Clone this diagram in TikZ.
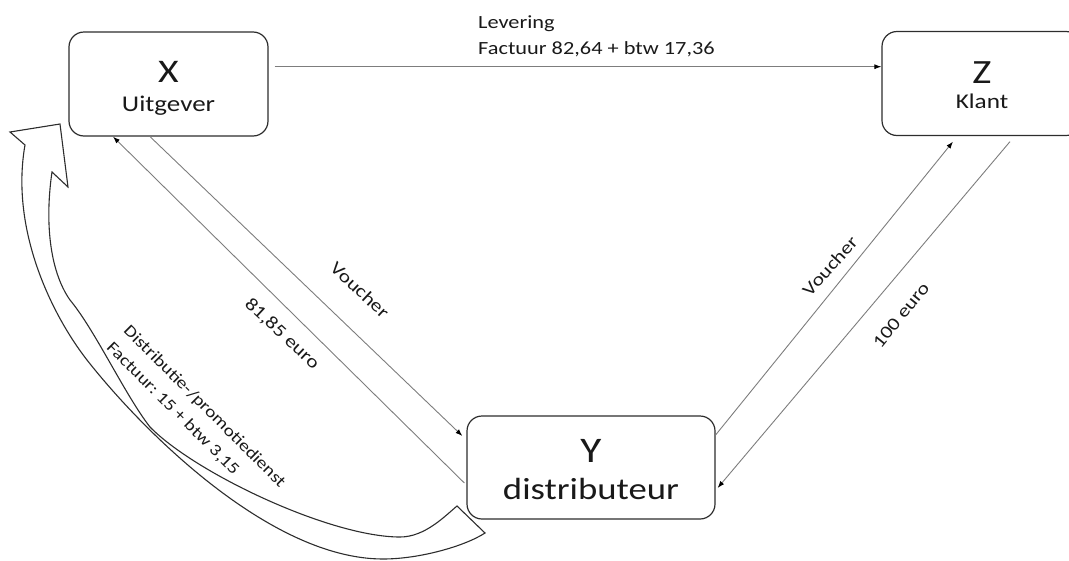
\documentclass[tikz,border=0pt]{standalone}
\usepackage{fontspec}
\setmainfont{Carlito}[FakeStretch=1.2]
\usetikzlibrary{arrows.meta}
\definecolor{conncol}{RGB}{125,125,125}
\definecolor{boxcol}{RGB}{45,45,45}
\definecolor{txtcol}{RGB}{25,25,25}
\frenchspacing
\begin{document}
\begin{tikzpicture}[x=1pt,y=-1pt,
  box/.style={draw=boxcol, line width=1.2pt, rounded corners=15pt, minimum width=199pt, minimum height=104pt, inner sep=0pt},
  conn/.style={draw=conncol, line width=0.9pt, -{Latex[length=7pt,width=5pt,color=black]}},
  lbl/.style={font=\fontsize{18}{22}\selectfont, inner sep=0pt, text=txtcol},
  boxtxt/.style={align=center, inner sep=0pt, anchor=north, text=txtcol},
  bigarrow/.style={draw=boxcol, line width=1.1pt, fill=white, line join=miter}
]
\useasboundingbox (0,0) rectangle (1069,560);

% curved block arrow
\draw[bigarrow] (52,172) .. controls (45,220) and (49,270) .. (70,300)
  .. controls (95,330) and (125,395) .. (150,427)
  .. controls (195,473) and (330,537) .. (400,537)
  .. controls (425,537) and (445,516) .. (457,506)
  -- (485,533)
  .. controls (465,546) and (420,559) .. (383,559)
  .. controls (270,559) and (142,430) .. (87,360)
  .. controls (52,315) and (10,230) .. (25,145)
  -- (10,132) -- (60,124) -- (68,187) -- cycle;

% boxes
\node[box] (X) at (168.5,84) {};
\node[box] (Z) at (981.5,83.5) {};
\node[box, minimum width=248pt, minimum height=103pt] (Y) at (591,467.5) {};

\node[boxtxt, font=\fontsize{22.5}{28.7}\selectfont] (Xt) at (168.5,61) {{\fontsize{33}{28.7}\selectfont X}\\Uitgever};
\node[boxtxt, font=\fontsize{21}{25}\selectfont] (Zt) at (982,61.7) {{\fontsize{34}{25}\selectfont Z}\\Klant};
\node[boxtxt, font=\fontsize{30.6}{37}\selectfont] (Yt) at (591,439) {{\fontsize{36}{37}\selectfont Y}\\distributeur};

% connectors
\coordinate (xs) at ([shift={(6,-17.3)}]X.east);
\draw[conn] (xs) -- (xs -| Z.west);
\draw[conn] ([shift={(-2,15.5)}]Y.west) -- ([xshift=-55.5]X.south);
\draw[conn] ([xshift=-18.5]X.south) -- ([shift={(-4,-31.5)}]Y.west);
\draw[conn] ([shift={(0,-32.5)}]Y.east) -- ([shift={(-28.5,5.5)}]Z.south);
\draw[conn] ([shift={(28.5,5.5)}]Z.south) -- ([shift={(2,20.5)}]Y.east);

% labels
\node[lbl, align=left, anchor=north west, font=\fontsize{18.6}{26.5}\selectfont] (ltop) at (478,15.5) {Levering\\Factuur 82,64 + btw 17,36};
\node[lbl, rotate=-43] (lv1) at (360,290) {Voucher};
\node[lbl, rotate=-43] (le1) at (282,334) {81,85 euro};
\node[lbl, rotate=48] (lv2) at (830,266) {Voucher};
\node[lbl, rotate=51] (le2) at (901,315) {100 euro};
\node[lbl, align=left, rotate=-45, font=\fontsize{16.5}{24}\selectfont] (ld) at (196,415) {Distributie-/promotiedienst\\Factuur: 15 + btw 3,15};
\end{tikzpicture}
\end{document}
